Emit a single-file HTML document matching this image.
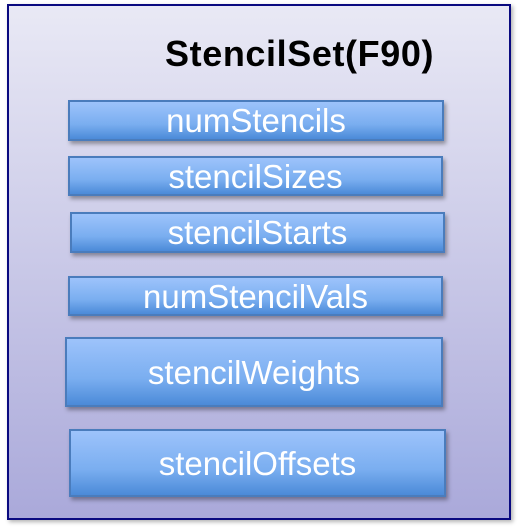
<!DOCTYPE html>
<html><head><style>
body{margin:0;width:519px;height:531px;background:#fff;position:relative;overflow:hidden;font-family:"Liberation Sans",sans-serif}
.outer{position:absolute;left:7px;top:4px;width:500px;height:512px;border:2px solid #0a0a80;background:linear-gradient(#e9e9f5,#aaa9da);box-shadow:2px 2px 4px rgba(0,0,0,.3)}
.t{position:absolute;left:165px;top:33px;font-weight:bold;font-size:36px;color:#000;letter-spacing:0.6px;white-space:nowrap}
.b{position:absolute;box-sizing:border-box;border:2px solid #4a7cbc;background:linear-gradient(#9dc3fb,#7aaef0 60%,#4b8ad8);color:#fff;text-align:center;font-size:33px;box-shadow:2px 3px 4px rgba(0,0,0,.35);white-space:nowrap}
</style></head><body>
<div class="outer"></div>
<div class="t">StencilSet(F90)</div>
<div class="b" style="left:68px;top:100px;width:376px;height:41px;line-height:38px">numStencils</div>
<div class="b" style="left:68px;top:156px;width:375px;height:40px;line-height:37px">stencilSizes</div>
<div class="b" style="left:70px;top:212px;width:375px;height:41px;line-height:38px">stencilStarts</div>
<div class="b" style="left:68px;top:276px;width:375px;height:40px;line-height:37px">numStencilVals</div>
<div class="b" style="left:65px;top:337px;width:378px;height:70px;line-height:67px">stencilWeights</div>
<div class="b" style="left:69px;top:429px;width:377px;height:68px;line-height:65px">stencilOffsets</div>
</body></html>
